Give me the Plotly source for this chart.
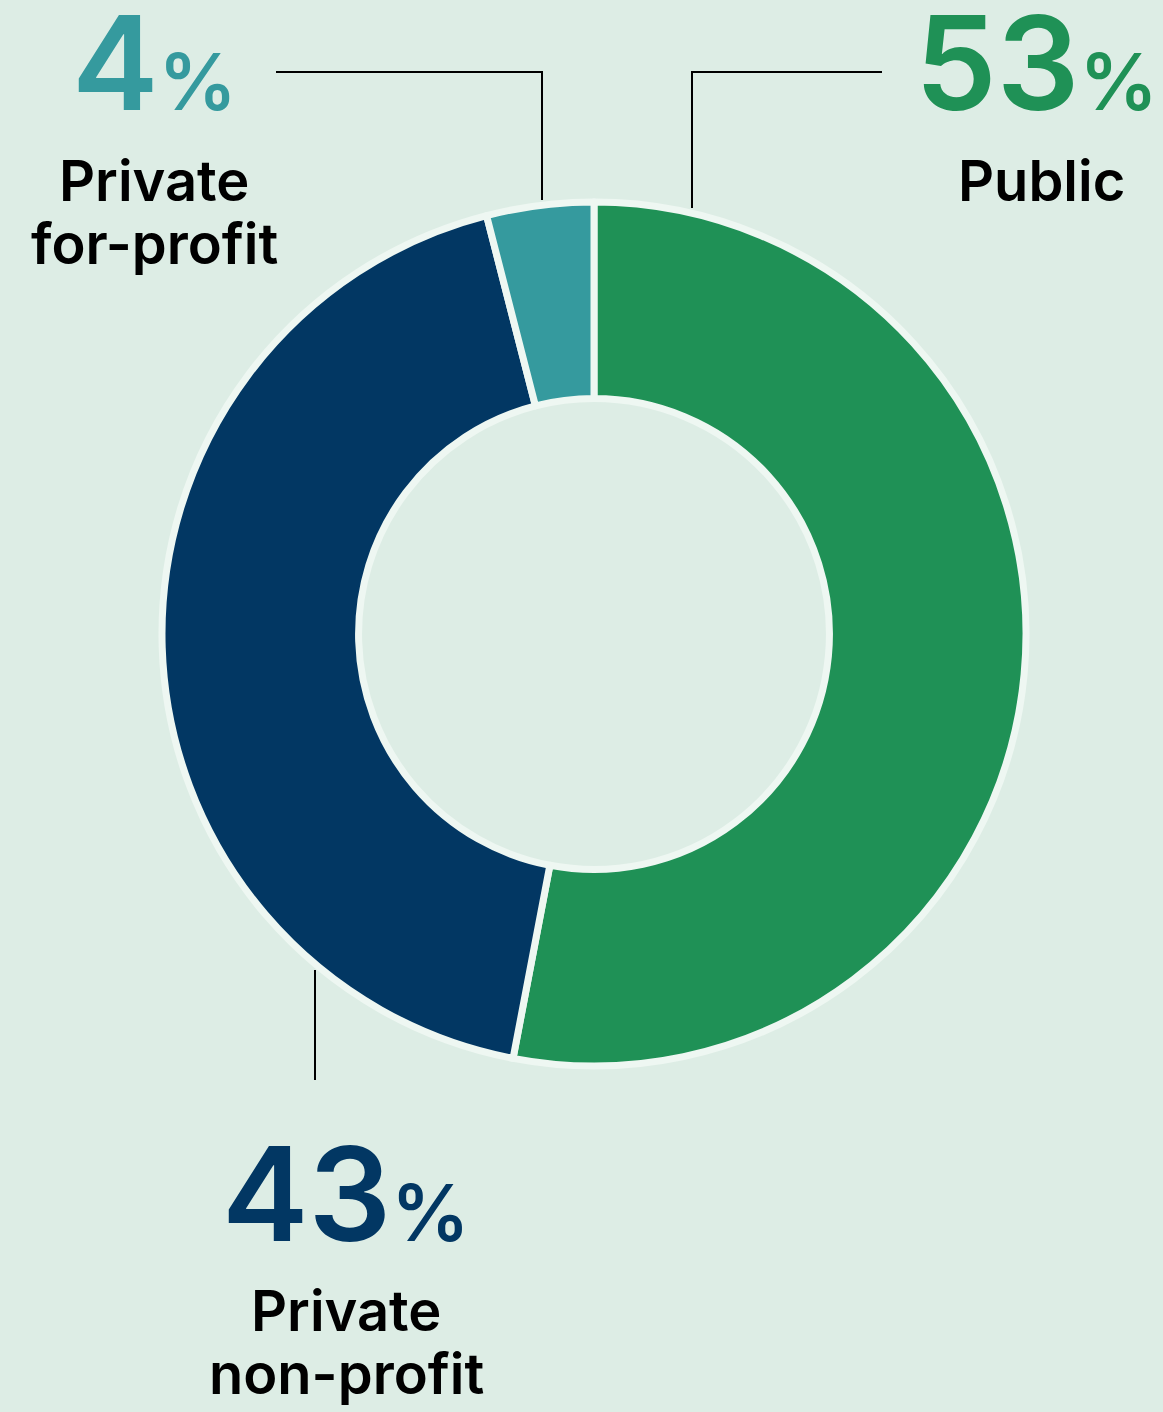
import plotly.graph_objects as go

# ---- data ----
categories = ["Public", "Private non-profit", "Private for-profit"]
values = [53, 43, 4]
colors = ["#1F9156", "#023763", "#359A9E"]
label_lines = [["Public"], ["Private", "non-profit"], ["Private", "for-profit"]]

W, H = 1163, 1412
BG = "#DDEDE5"
SEP = "#EEF7F2"
FONT = "Inter"

def px(x):
    return x / W

def py(y):
    return 1 - y / H

cx, cy, R = 594, 634, 432

fig = go.Figure(go.Pie(
    labels=categories,
    values=values,
    marker=dict(colors=colors, line=dict(color=SEP, width=7)),
    hole=0.545,
    sort=False,
    direction="clockwise",
    rotation=0,
    textinfo="none",
    hoverinfo="label+percent",
    domain=dict(x=[px(cx - R), px(cx + R)], y=[py(cy + R), py(cy - R)]),
    showlegend=False,
))

# label placement (pixel anchors: number baseline, label first baseline)
placements = {
    "Public": dict(x=1041, num_right=1160, num_base=112, lab_base=202),
    "Private for-profit": dict(x=154, num_right=None, num_base=112, lab_base=202),
    "Private non-profit": dict(x=346, num_right=None, num_base=1243, lab_base=1332),
}

NUM_SIZE = 130
PCT_SIZE = 78
LAB_SIZE = 56
LINE_GAP = 63

annotations = []
for cat, val, col, lines in zip(categories, values, colors, label_lines):
    p = placements[cat]
    num_text = f"{val}<span style='font-size:{PCT_SIZE}px'>%</span>"
    if p["num_right"] is not None:
        ax, xa = p["num_right"], "right"
    else:
        ax, xa = p["x"], "center"
    annotations.append(dict(
        x=px(ax), y=py(p["num_base"]), xref="paper", yref="paper",
        text=num_text, showarrow=False, xanchor=xa, yanchor="bottom",
        font=dict(family=FONT, size=NUM_SIZE, color=col, weight=600), yshift=-31,
    ))
    for i, line in enumerate(lines):
        annotations.append(dict(
            x=px(p["x"]), y=py(p["lab_base"] + i * LINE_GAP), xref="paper", yref="paper",
            text=line, showarrow=False, xanchor="center", yanchor="bottom",
            font=dict(family=FONT, size=LAB_SIZE, color="#000000", weight=600), yshift=-15,
        ))

def path_px(points):
    return "M " + " L ".join(f"{px(x):.5f},{py(y):.5f}" for x, y in points)

leaders = [
    [(882, 72), (692, 72), (692, 208)],
    [(276, 72), (542, 72), (542, 200)],
    [(315, 970), (315, 1080)],
]
shapes = [dict(type="path", xref="paper", yref="paper", path=path_px(pts),
               line=dict(color="#000000", width=2)) for pts in leaders]

fig.update_layout(
    width=W, height=H,
    margin=dict(l=0, r=0, t=0, b=0),
    paper_bgcolor=BG, plot_bgcolor=BG,
    annotations=annotations,
    shapes=shapes,
)

fig.write_html(
    "out.html",
    config={"displayModeBar": False},
    post_script="document.body.style.margin='0';document.body.style.overflow='hidden';",
)
